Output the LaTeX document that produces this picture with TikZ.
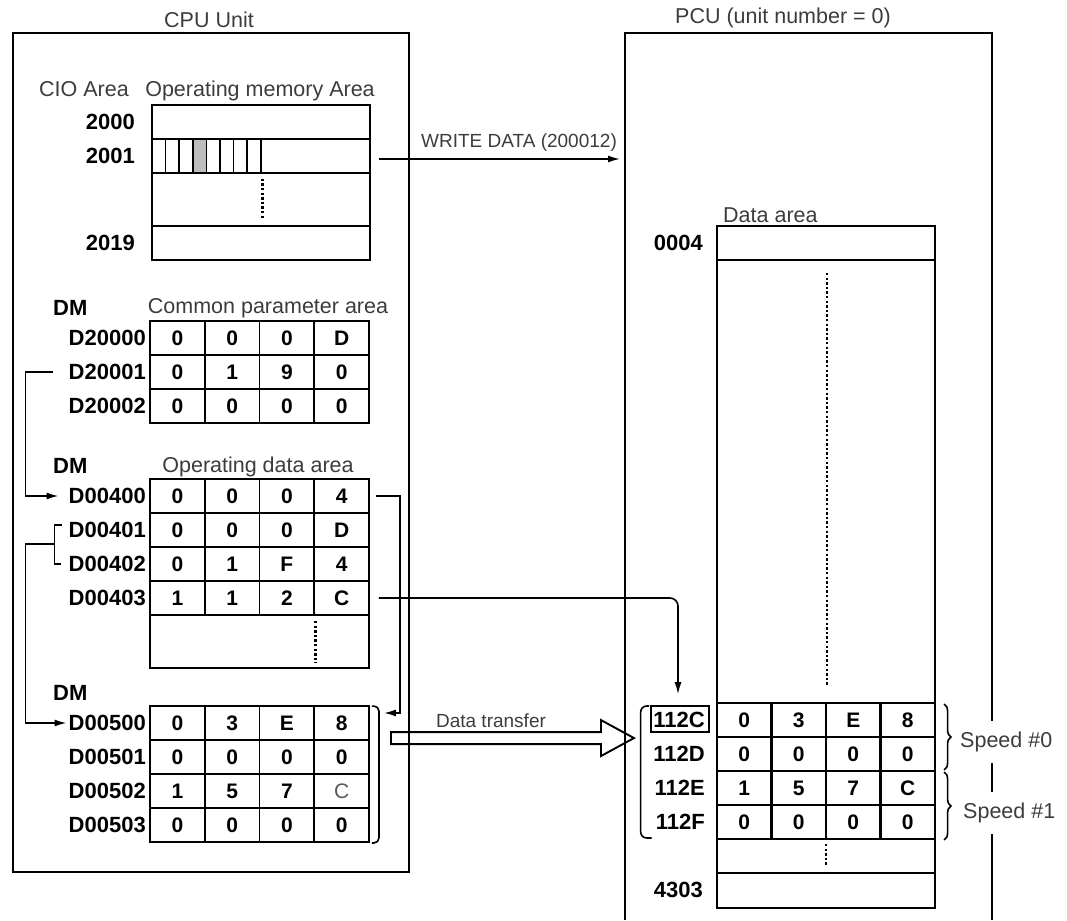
\documentclass[tikz,border=0pt]{standalone}
\usepackage{fontspec}
\setmainfont{Liberation Sans}
\usepackage{tikz}
\usetikzlibrary{arrows.meta,calc,decorations.pathreplacing}
\definecolor{labgray}{HTML}{3C3C3C}
\definecolor{bitfill}{HTML}{BDBDBD}
\tikzset{
  >={Latex[length=12pt,width=7pt]},
  arr/.style={->,draw=black,line width=1.6pt},
  link/.style={draw=black,line width=1.6pt},
  dotln/.style={line width=2.8pt,dash pattern=on 2.4pt off 2.2pt},
}
\newcommand{\fadedc}{\textcolor{labgray!85}{\raisebox{-4pt}{\mdseries C}}}

\begin{document}
\begin{tikzpicture}[x=1pt,y=-1pt,
  unitbox/.style={draw,line width=1.9pt,inner sep=0pt},
  memrow/.style={draw,line width=1.9pt,minimum width=218pt,minimum height=34pt,inner sep=0pt},
  valcell/.style={draw,line width=1.9pt,minimum width=54.75pt,minimum height=34pt,
    inner sep=0pt,font=\fontsize{21}{25}\selectfont\bfseries},
  bit/.style={draw,line width=1.6pt,minimum width=13.6pt,minimum height=34pt,inner sep=0pt},
  addr/.style={anchor=east,inner sep=1pt,font=\fontsize{22}{26}\selectfont\bfseries},
  ttl/.style={anchor=base,inner sep=0pt,text=labgray,font=\fontsize{21.5}{25}\selectfont},
  arrlab/.style={anchor=base,inner sep=0pt,text=labgray,font=\fontsize{19}{22}\selectfont},
]
  \useasboundingbox (0,0) rectangle (1067,920);

  % CPU Unit
  \node[unitbox,minimum width=396pt,minimum height=839pt] (cpu) at (211,452.5) {};
  \node[ttl] at (209,28) {CPU Unit};

  % PCU
  \draw[line width=1.9pt] (625,920) |- (992,33) -- (992,920);
  \coordinate (pcu) at (625,33);
  \node[ttl] at (783,24) {PCU (unit number = 0)};

  % CIO area
  \node[ttl] at (84,97) {CIO Area};
  \node[ttl] at (260,97) {Operating memory Area};
  \node[memrow] (m2000) at (261,122) {};
  \node[memrow] (m2001) at (261,156) {};
  \node[memrow,minimum height=53pt] (mgap) at (261,199.5) {};
  \node[memrow] (m2019) at (261,243) {};
  \foreach \i/\f in {1/none,2/none,3/none,4/bitfill,5/none,6/none,7/none,8/none}
    \node[bit,fill=\f] (bit\i) at ({152+13.6*(\i-0.5)},156) {};
  \draw[dotln] ($(bit8.south east)+(1,5)$) -- ++(0,40);
  \foreach \lab/\y in {2000/122,2001/156,2019/243}
    \node[addr] (a\lab) at (136,\y) {\lab};

  % WRITE DATA
  \draw[arr] ($(m2001.east)+(8,3)$) -- ($(pcu |- m2001.east)+(-5,3)$);
  \node[arrlab] at (519,148) {WRITE DATA (200012)};

  % Common parameter area
  \node[addr,anchor=base west] (dm1) at (52,315) {DM};
  \node[ttl] at (268,313) {Common parameter area};
  \foreach \lab/\y/\pa/\pb/\pc/\pd [count=\r] in
    {D20000/338/0/0/0/D,D20001/372/0/1/9/0,D20002/406/0/0/0/0}{
    \node[addr] (cpl\r) at (147,\y) {\lab};
    \foreach \v [count=\k] in {\pa,\pb,\pc,\pd}
      \node[valcell] (cp\r\k) at ({150+54.75*(\k-0.5)},\y) {\v};
  }

  % Operating data area
  \node[addr,anchor=base west] (dm2) at (52,473) {DM};
  \node[ttl] at (258,472) {Operating data area};
  \foreach \lab/\y/\pa/\pb/\pc/\pd [count=\r] in
    {D00400/496/0/0/0/4,D00401/530/0/0/0/D,D00402/564/0/1/F/4,D00403/598/1/1/2/C}{
    \node[addr] (odl\r) at (147,\y) {\lab};
    \foreach \v [count=\k] in {\pa,\pb,\pc,\pd}
      \node[valcell] (od\r\k) at ({150+54.75*(\k-0.5)},\y) {\v};
  }
  \node[memrow,minimum width=219pt,minimum height=53pt] (odgap) at (259.5,641.5) {};
  \draw[dotln] ($(od43.south east)+(0,5)$) -- ++(0,42);

  % Transfer source
  \node[addr,anchor=base west] (dm3) at (52,700) {DM};
  \foreach \lab/\y/\pa/\pb/\pc/\pd [count=\r] in
    {D00500/723/0/3/E/8,D00501/757/0/0/0/0,D00502/791/1/5/7/\fadedc,D00503/825/0/0/0/0}{
    \node[addr] (dml\r) at (147,\y) {\lab};
    \foreach \v [count=\k] in {\pa,\pb,\pc,\pd}
      \node[valcell] (dm\r\k) at ({150+54.75*(\k-0.5)},\y) {\v};
  }
  \draw[link,rounded corners=5pt] ($(dm14.north east)+(2,1)$) -| ($(dm44.south east)+(9,0)$) -- ++(-7,0);

  % Data transfer
  \coordinate (dt) at ($(dm14.north east)+(21,27)$);
  \draw[line width=1.9pt,line join=miter] (dt) -- ++(210,0) -- ++(0,-12) -- ++(33,18)
    -- ++(-33,18) -- ++(0,-12) -- ++(-210,0) -- cycle;
  \node[arrlab] at (491,727) {Data transfer};

  % PCU data area
  \node[ttl,anchor=base west] at (723,222) {Data area};
  \node[memrow] (d0004) at (826,243) {};
  \node[memrow,minimum height=443pt] (dbig) at (826,481.5) {};
  \draw[dotln] ($(d0004.south)+(1,12)$) -- ($(dbig.south)+(1,-18)$);
  \node[addr] (a0004) at (704,243) {0004};
  \foreach \lab/\y/\pa/\pb/\pc/\pd [count=\r] in
    {112C/720/0/3/E/8,112D/754/0/0/0/0,112E/788/1/5/7/C,112F/822/0/0/0/0}{
    \node[addr] (pl\r) at (706,\y) {\lab};
    \foreach \v [count=\k] in {\pa,\pb,\pc,\pd}
      \node[valcell] (pc\r\k) at ({717+54.5*(\k-0.5)},\y) {\v};
  }
  \node[draw,line width=1.6pt,inner sep=0pt,minimum width=58pt,minimum height=26pt] (pbox) at (680,719) {};
  \node[memrow] (dgap) at (826,856) {};
  \draw[dotln] ($(dgap.north)+(0,6)$) -- ++(0,21);
  \node[memrow,minimum height=35pt] (d4303) at (826,890.5) {};
  \node[addr] (a4303) at (704,890) {4303};
  \draw[link,rounded corners=6pt] ($(pl1.west)+(-3,-14)$) -| ($(pl4.west)+(-14,16)$) -- ++(11,0);

  % Speed groups
  \draw[link,decorate,decoration={brace,amplitude=7pt}] ($(pc14.north east)+(8,2)$) -- ($(pc24.south east)+(8,-2)$);
  \draw[link,decorate,decoration={brace,amplitude=7pt}] ($(pc34.north east)+(8,2)$) -- ($(pc44.south east)+(8,0)$);
  \node[ttl,anchor=west,fill=white,inner xsep=2pt,inner ysep=11pt] (sp0) at (958,742) {Speed \#0};
  \node[ttl,anchor=west,fill=white,inner xsep=2pt,inner ysep=11pt] (sp1) at (961,813) {Speed \#1};

  % links
  \draw[arr] ($(cpl2.west)+(-15,0)$) -- ++(-27,0) |- ($(odl1.west)+(-9,0)$);
  \draw[link] ($(odl2.west)+(-6,-5)$) -| ($(odl3.west)+(-13,0)$) -- ++(6,0);
  \coordinate (brk) at ($(odl2.west)+(-13,14)$);
  \draw[arr] (brk) -- ++(-29,0) |- ($(dml1.west)+(-1,0)$);
  \draw[arr] ($(od14.east)+(6,0)$) -| ($(dm14.east)+(30,-10)$) -- ++(-16,0);
  \draw[arr,rounded corners=8pt] ($(od44.east)+(9,0)$) -| ($(pbox.north)+(-2,-11)$);
\end{tikzpicture}
\end{document}
